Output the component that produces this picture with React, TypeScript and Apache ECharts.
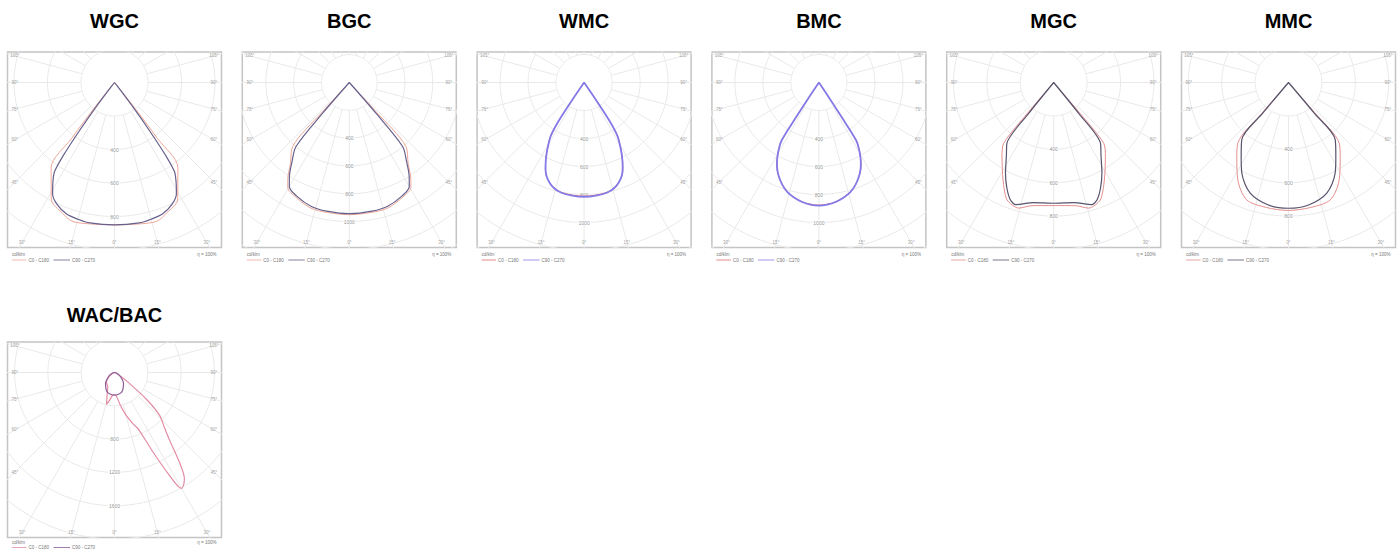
import React, { useEffect, useRef } from 'react';
import * as echarts from 'echarts';

// ---------- data ----------
const TITLES = ['WGC', 'BGC', 'WMC', 'BMC', 'MGC', 'MMC', 'WAC/BAC'];
// scale of each diagram: pixels between rings and cd/klm per ring
const PX_PER_RING = [33.5, 27.8, 28, 28, 33.4, 33.4, 33.3];
const RING_STEP = [200, 200, 200, 200, 200, 200, 400];
const RING_COUNT = 8;
const RADIAL_STEP_DEG = 15;
const SIDE_ANGLES = [105, 90, 75, 60, 45];
const BOTTOM_ANGLES = [-30, -15, 0, 15, 30];
const UNIT_LABEL = 'cd/klm';
const EFFICIENCY_LABEL = 'η = 100%';
const LEGEND_C0 = 'C0 - C180';
const LEGEND_C90 = 'C90 - C270';

// half profiles: [angle from nadir (deg), intensity cd/klm]
const WGC_C0_HALF: number[][] = [[0, 850], [10, 857], [17, 866], [22, 838], [28, 800], [30, 756], [33, 694], [36.7, 633], [37.5, 420], [38.5, 180], [39.5, 0]];
const WGC_C90_HALF: number[][] = [[0, 850], [10, 851], [15, 845], [20, 836], [25, 806], [29, 762], [31, 716], [33, 669], [34, 639], [35, 537], [36, 358], [37, 179], [38, 30], [39, 0]];
const BGC_C0_HALF: number[][] = [[0, 951], [10, 948], [17, 945], [25, 910], [30.3, 877], [32.4, 827], [36, 720], [41.5, 615], [42.5, 290], [43.5, 0]];
const BGC_C90_HALF: number[][] = [[0, 944], [10, 940], [17, 933], [25, 900], [30, 863], [32.5, 802], [36, 700], [39.8, 599], [41, 290], [42, 0]];
const WMC_C0_HALF: number[][] = [[0, 812], [6, 809], [12, 800], [16, 782], [19, 755], [22, 720], [24, 680], [26, 628], [28, 572], [30, 512], [32, 452], [33.5, 332], [34.3, 170], [34.9, 0]];
const WMC_C90_HALF: number[][] = [[0, 816], [6, 812], [12, 803], [16, 784], [19, 757], [22, 718], [24, 677], [26, 625], [28, 568], [30, 509], [32, 449], [33.5, 330], [34.2, 170], [34.8, 0]];
const BMC_C0_HALF: number[][] = [[0, 876], [4, 871], [8, 860], [12, 840], [16, 813], [20, 771], [24, 717], [27, 662], [29, 614], [31, 558], [32.8, 491], [33.3, 300], [33.7, 150], [34.3, 0]];
const BMC_C90_HALF: number[][] = [[0, 879], [4, 874], [8, 862], [12, 842], [16, 815], [20, 772], [24, 716], [27, 660], [29, 612], [31, 556], [32.8, 489], [33.3, 300], [33.7, 150], [34.2, 0]];
const MGC_C0_HALF: number[][] = [[0, 737], [10, 749], [15.6, 781], [21.7, 756], [27.5, 657], [34.9, 541], [39.5, 471], [40.5, 240], [41.5, 0]];
const MGC_C90_HALF: number[][] = [[0, 723], [9.5, 729], [17.4, 766], [20.3, 749], [24, 690], [28, 615], [33, 520], [37.6, 459], [39, 240], [40, 0]];
const MMC_C0_HALF: number[][] = [[0, 766], [10, 760], [19.6, 746], [27.5, 657], [34.9, 541], [39.9, 473], [40.8, 240], [41.8, 0]];
const MMC_C90_HALF: number[][] = [[0, 753], [9.3, 743], [19.1, 701], [27.2, 611], [32.6, 526], [39.2, 443], [40, 240], [41, 0]];
// asymmetric: signed angle (negative = C180 side)
const WAC_C0_FULL: number[][] = [[-90, 0], [-70, 24], [-55, 72], [-40, 150], [-25, 192], [-18, 288], [-14, 396], [-10, 336], [-5, 276], [0, 264], [4, 276], [10, 396], [15, 528], [20, 660], [23, 745], [25.8, 1057], [28, 1381], [30, 1609], [32, 1573], [33.4, 1525], [36, 1321], [39, 1057], [42, 901], [46.5, 745], [50, 504], [55, 180], [57, 96], [60, 48], [70, 24], [90, 0]];
const WAC_C90_HALF: number[][] = [[0, 273], [20, 252], [40, 168], [60, 72], [75, 24], [90, 0]];

// ---------- layout / style ----------
const BOX_LEFT0 = 7.5;
const BOX_STEP_X = 234.8;
const BOX_TOPS = [52, 342];
const TITLE_TOPS = [11, 305];
const LEGEND_DY = [[6.5, 12.5], [5, 10]];
const BOX_W = 214;
const BOX_H = 195.5;
const CENTER_DY = 30.5;
const PER_ROW = 6;
const SIDE_INSET = 99.5;
const BOTTOM_INSET = 160;
const GRID_COLOR = '#e9e9e9';
const FONT = "'Liberation Sans', Arial, Helvetica, sans-serif";

const mirror = (half: number[][]) => [
  ...half.slice(1).reverse().map(([a, v]) => [-a, v]),
  ...half,
];

const CURVES = [
  { c0: mirror(WGC_C0_HALF), c90: mirror(WGC_C90_HALF) },
  { c0: mirror(BGC_C0_HALF), c90: mirror(BGC_C90_HALF) },
  { c0: mirror(WMC_C0_HALF), c90: mirror(WMC_C90_HALF) },
  { c0: mirror(BMC_C0_HALF), c90: mirror(BMC_C90_HALF) },
  { c0: mirror(MGC_C0_HALF), c90: mirror(MGC_C90_HALF) },
  { c0: mirror(MMC_C0_HALF), c90: mirror(MMC_C90_HALF) },
  { c0: WAC_C0_FULL, c90: mirror(WAC_C90_HALF) },
];

const STYLES = [
  { c0: '#eea899', c90: '#67608c', w0: 1, w90: 1.2, smooth: 0.3 },
  { c0: '#eea899', c90: '#67608c', w0: 1, w90: 1.2, smooth: 0.3 },
  { c0: '#e06a6a', c90: '#857be8', w0: 1, w90: 1.8, smooth: 0.35 },
  { c0: '#e06a6a', c90: '#857be8', w0: 1, w90: 1.8, smooth: 0.35 },
  { c0: '#e48e8e', c90: '#57536c', w0: 1, w90: 1.2, smooth: 0.25 },
  { c0: '#e48e8e', c90: '#57536c', w0: 1, w90: 1.2, smooth: 0.3 },
  { c0: '#e38ca2', c90: '#8a5c98', w0: 1.2, w90: 1.2, smooth: 0.25 },
];

const toXY = (deg: number, v: number) => {
  const a = (deg * Math.PI) / 180;
  return [v * Math.sin(a), -v * Math.cos(a)];
};

function buildOption() {
  const grid: any[] = [];
  const xAxis: any[] = [];
  const yAxis: any[] = [];
  const title: any[] = [];
  const series: any[] = [];
  const elements: any[] = [];

  TITLES.forEach((name, i) => {
    const col = i % PER_ROW;
    const row = Math.floor(i / PER_ROW);
    const left = BOX_LEFT0 + col * BOX_STEP_X;
    const top = BOX_TOPS[row];
    const step = RING_STEP[i];
    const unit = step / PX_PER_RING[i];
    const st = STYLES[i];

    grid.push({
      left, top, width: BOX_W, height: BOX_H, show: true,
      borderColor: '#c4c4c4', borderWidth: 1.5, backgroundColor: '#fff',
    });
    xAxis.push({ type: 'value', gridIndex: i, min: (-BOX_W / 2) * unit, max: (BOX_W / 2) * unit, show: false });
    yAxis.push({ type: 'value', gridIndex: i, min: -(BOX_H - CENTER_DY) * unit, max: CENTER_DY * unit, show: false });

    title.push({
      text: name, left: left + BOX_W / 2, top: TITLE_TOPS[row], textAlign: 'center', padding: 0,
      textStyle: { fontSize: 20, fontWeight: 'bold', color: '#000', fontFamily: FONT },
    });

    // rings
    const ringData: number[][] = [];
    for (let k = 1; k <= RING_COUNT; k++) {
      for (let d = 0; d <= 360; d += 2) ringData.push(toXY(d, k * step));
      ringData.push([NaN, NaN]);
    }
    series.push({
      type: 'line', xAxisIndex: i, yAxisIndex: i, data: ringData, symbol: 'none', showSymbol: false,
      silent: true, clip: true, connectNulls: false, lineStyle: { color: GRID_COLOR, width: 1 }, z: 1,
    });
    // radial lines
    const radData: number[][] = [];
    for (let d = 0; d < 360; d += RADIAL_STEP_DEG) {
      radData.push(toXY(d, step), toXY(d, step * 12), [NaN, NaN]);
    }
    series.push({
      type: 'line', xAxisIndex: i, yAxisIndex: i, data: radData, symbol: 'none', showSymbol: false,
      silent: true, clip: true, connectNulls: false, lineStyle: { color: GRID_COLOR, width: 1 }, z: 1,
    });

    // ring labels
    const ringLabels: any[] = [];
    for (let k = 2; k * PX_PER_RING[i] < BOX_H - CENTER_DY - 8; k++) {
      ringLabels.push({ value: [0, -k * step], name: String(k * step) });
    }
    series.push({
      type: 'scatter', xAxisIndex: i, yAxisIndex: i, data: ringLabels, symbolSize: 1, silent: true,
      itemStyle: { color: 'rgba(0,0,0,0)' }, z: 2,
      label: {
        show: true, position: 'inside', formatter: '{b}', fontSize: 5, color: '#777',
        backgroundColor: '#fff', padding: [0, 1], fontFamily: FONT,
      },
    });

    // angle labels
    const angLabels: any[] = [];
    SIDE_ANGLES.forEach((a) => {
      const dy = SIDE_INSET / Math.tan((a * Math.PI) / 180);
      [-1, 1].forEach((s) => angLabels.push({ value: [s * SIDE_INSET * unit, -dy * unit], name: a + '°' }));
    });
    BOTTOM_ANGLES.forEach((a) => {
      const dx = Math.sign(a) * Math.min(SIDE_INSET, BOTTOM_INSET * Math.tan((Math.abs(a) * Math.PI) / 180));
      angLabels.push({ value: [dx * unit, -BOTTOM_INSET * unit], name: Math.abs(a) + '°' });
    });
    series.push({
      type: 'scatter', xAxisIndex: i, yAxisIndex: i, data: angLabels, symbolSize: 1, silent: true, clip: false,
      itemStyle: { color: 'rgba(0,0,0,0)' }, z: 2,
      label: { show: true, position: 'inside', formatter: '{b}', fontSize: 4.5, color: '#888', fontFamily: FONT },
    });

    // curves
    const c = CURVES[i];
    series.push({
      name: LEGEND_C0, type: 'line', xAxisIndex: i, yAxisIndex: i, smooth: st.smooth,
      data: c.c0.map(([a, v]) => toXY(a, v)), symbol: 'none', showSymbol: false, clip: true,
      lineStyle: { color: st.c0, width: st.w0 }, z: 4,
    });
    series.push({
      name: LEGEND_C90, type: 'line', xAxisIndex: i, yAxisIndex: i, smooth: st.smooth,
      data: c.c90.map(([a, v]) => toXY(a, v)), symbol: 'none', showSymbol: false, clip: true,
      lineStyle: { color: st.c90, width: st.w90 }, z: 5,
    });

    // legend area below the box
    const bottom = top + BOX_H;
    const [dy1, dy2] = LEGEND_DY[row];
    const txt = (x: number, y: number, text: string, align = 'left') => ({
      type: 'text', x, y,
      style: { text, fontSize: 4.5, fill: '#777', textAlign: align, textVerticalAlign: 'middle', fontFamily: FONT },
    });
    elements.push(txt(left + 4.5, bottom + dy1, UNIT_LABEL));
    elements.push(txt(left + BOX_W - 5, bottom + dy1, EFFICIENCY_LABEL, 'right'));
    elements.push({ type: 'line', shape: { x1: left + 4.5, y1: bottom + dy2, x2: left + 19, y2: bottom + dy2 }, style: { stroke: st.c0, lineWidth: 0.8 } });
    elements.push(txt(left + 21, bottom + dy2, LEGEND_C0));
    elements.push({ type: 'line', shape: { x1: left + 46, y1: bottom + dy2, x2: left + 62.5, y2: bottom + dy2 }, style: { stroke: st.c90, lineWidth: 0.8 } });
    elements.push(txt(left + 64.5, bottom + dy2, LEGEND_C90));
  });

  return {
    animation: false,
    backgroundColor: '#ffffff',
    title, grid, xAxis, yAxis, series,
    graphic: { elements },
  };
}

export default function App() {
  const ref = useRef<HTMLDivElement>(null);
  useEffect(() => {
    if (!ref.current) return;
    const chart = echarts.init(ref.current, null, { renderer: 'svg' });
    chart.setOption(buildOption() as any);
    return () => chart.dispose();
  }, []);
  return (
    <div
      ref={ref}
      style={{ position: 'absolute', left: 0, top: 0, width: 1400, height: 551 }}
    />
  );
}
